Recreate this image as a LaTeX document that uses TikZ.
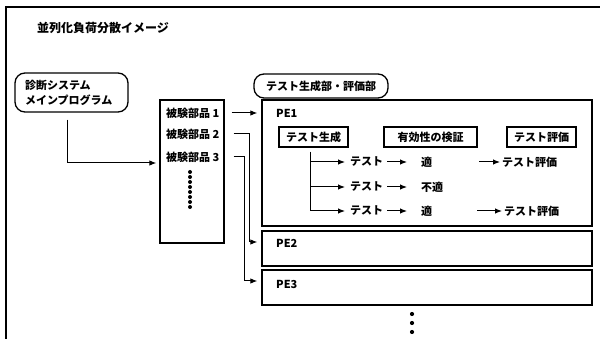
\documentclass[tikz,border=0pt]{standalone}
\usepackage{fontspec}
\setmainfont{Noto Sans CJK JP}
\usetikzlibrary{arrows.meta,calc}
\begin{document}
\begin{tikzpicture}[x=1pt,y=-1pt,
  every node/.style={font=\fontsize{11}{15}\selectfont\bfseries, inner sep=0pt},
  frameline/.style={line width=1.4pt},
  rbox/.style={draw, line width=1.3pt, rounded corners=10pt},
  sbox/.style={draw, line width=1.3pt},
  lbl/.style={anchor=west},
  arr/.style={line width=1pt, -{Latex[length=7pt,width=5.5pt]}}]
\useasboundingbox (0,0) rectangle (600,339);
\draw[frameline] (6,339) -- (6,7) -- (600,7);

% title
\node[lbl, font=\fontsize{12}{14}\selectfont\bfseries] (title) at (37,28) {並列化負荷分散イメージ};

% main program
\node[rbox, minimum width=113, minimum height=39, text width=93, inner xsep=10pt, align=left] (main) at (71.5,92.5) {診断システム\\メインプログラム};

% list of parts
\node[sbox, minimum width=64, minimum height=143] (list) at (192,171.5) {};
\node[lbl] (i1) at (166,113) {被験部品 1};
\node[lbl] (i2) at (166,134) {被験部品 2};
\node[lbl] (i3) at (166,157) {被験部品 3};
\foreach \k in {0,...,7} \fill (190,{172+5*\k}) circle (2);

% test generation / evaluation part
\node[rbox, minimum width=134, minimum height=24] (tg) at (321,86) {テスト生成部・評価部};

% PE boxes
\node[sbox, minimum width=330, minimum height=126] (pe1) at (427,163) {};
\node[sbox, minimum width=330, minimum height=35] (pe2) at (427,248.5) {};
\node[sbox, minimum width=330, minimum height=35] (pe3) at (427,287.5) {};
\node[lbl] (pe1l) at (276,113) {PE1};
\node[lbl] (pe2l) at (276,243) {PE2};
\node[lbl] (pe3l) at (276,284) {PE3};
\foreach \k in {0,1,2} \fill (412,{314+9*\k}) circle (2.1);

% inner boxes of PE1
\node[sbox, minimum width=69, minimum height=20] (gen) at (313.5,137) {テスト生成};
\node[sbox, minimum width=93, minimum height=20] (val) at (430.5,137) {有効性の検証};
\node[sbox, minimum width=69, minimum height=20] (ev) at (541.5,137) {テスト評価};

% rows
\node[lbl] (t1) at (350,162) {テスト};
\node[lbl] (t2) at (350,187) {テスト};
\node[lbl] (t3) at (350,211) {テスト};
\node[lbl] (ok1) at (421,162) {適};
\node[lbl] (ok2) at (421,187) {不適};
\node[lbl] (ok3) at (421,211) {適};
\node[lbl] (e1) at (502,162) {テスト評価};
\node[lbl] (e3) at (504,211) {テスト評価};

% connectors: main -> list
\draw[arr, shorten >=3pt] ($(main.south)+(-4.5,7)$) |- (list.west |- 0,163);
% list -> PEs
\draw[arr, shorten >=4pt] ($(list.east |- i1)+(7,0)$) -- (pe1.west |- i1);
\draw[arr, shorten >=4pt] ($(list.east |- i2)+(9,0)$) -- ++(16,0) |- (pe2.west |- 0,242);
\draw[arr, shorten >=4pt] ($(list.east |- i3)+(9,0)$) -- ++(11,0) |- (pe3.west |- 0,281);

% trunk from test generation
\coordinate (ts) at ($(gen.south)+(-3.5,4)$);
\draw[arr, shorten >=5pt] (ts) |- (t3.west);
\draw[arr, shorten >=5pt] (ts |- t1) -- (t1.west);
\draw[arr, shorten >=5pt] (ts |- t2) -- (t2.west);
% test -> result
\draw[arr, shorten <=4pt, shorten >=14pt] (t1.east) -- (ok1.west);
\draw[arr, shorten <=4pt, shorten >=14pt] (t2.east) -- (ok2.west);
\draw[arr, shorten <=4pt, shorten >=14pt] (t3.east) -- (ok3.west);
% result -> evaluation
\draw[arr, shorten <=47pt, shorten >=2pt] (ok1.east) -- (e1.west);
\draw[arr, shorten <=45pt, shorten >=2pt] (ok3.east) -- (e3.west);
\end{tikzpicture}
\end{document}
